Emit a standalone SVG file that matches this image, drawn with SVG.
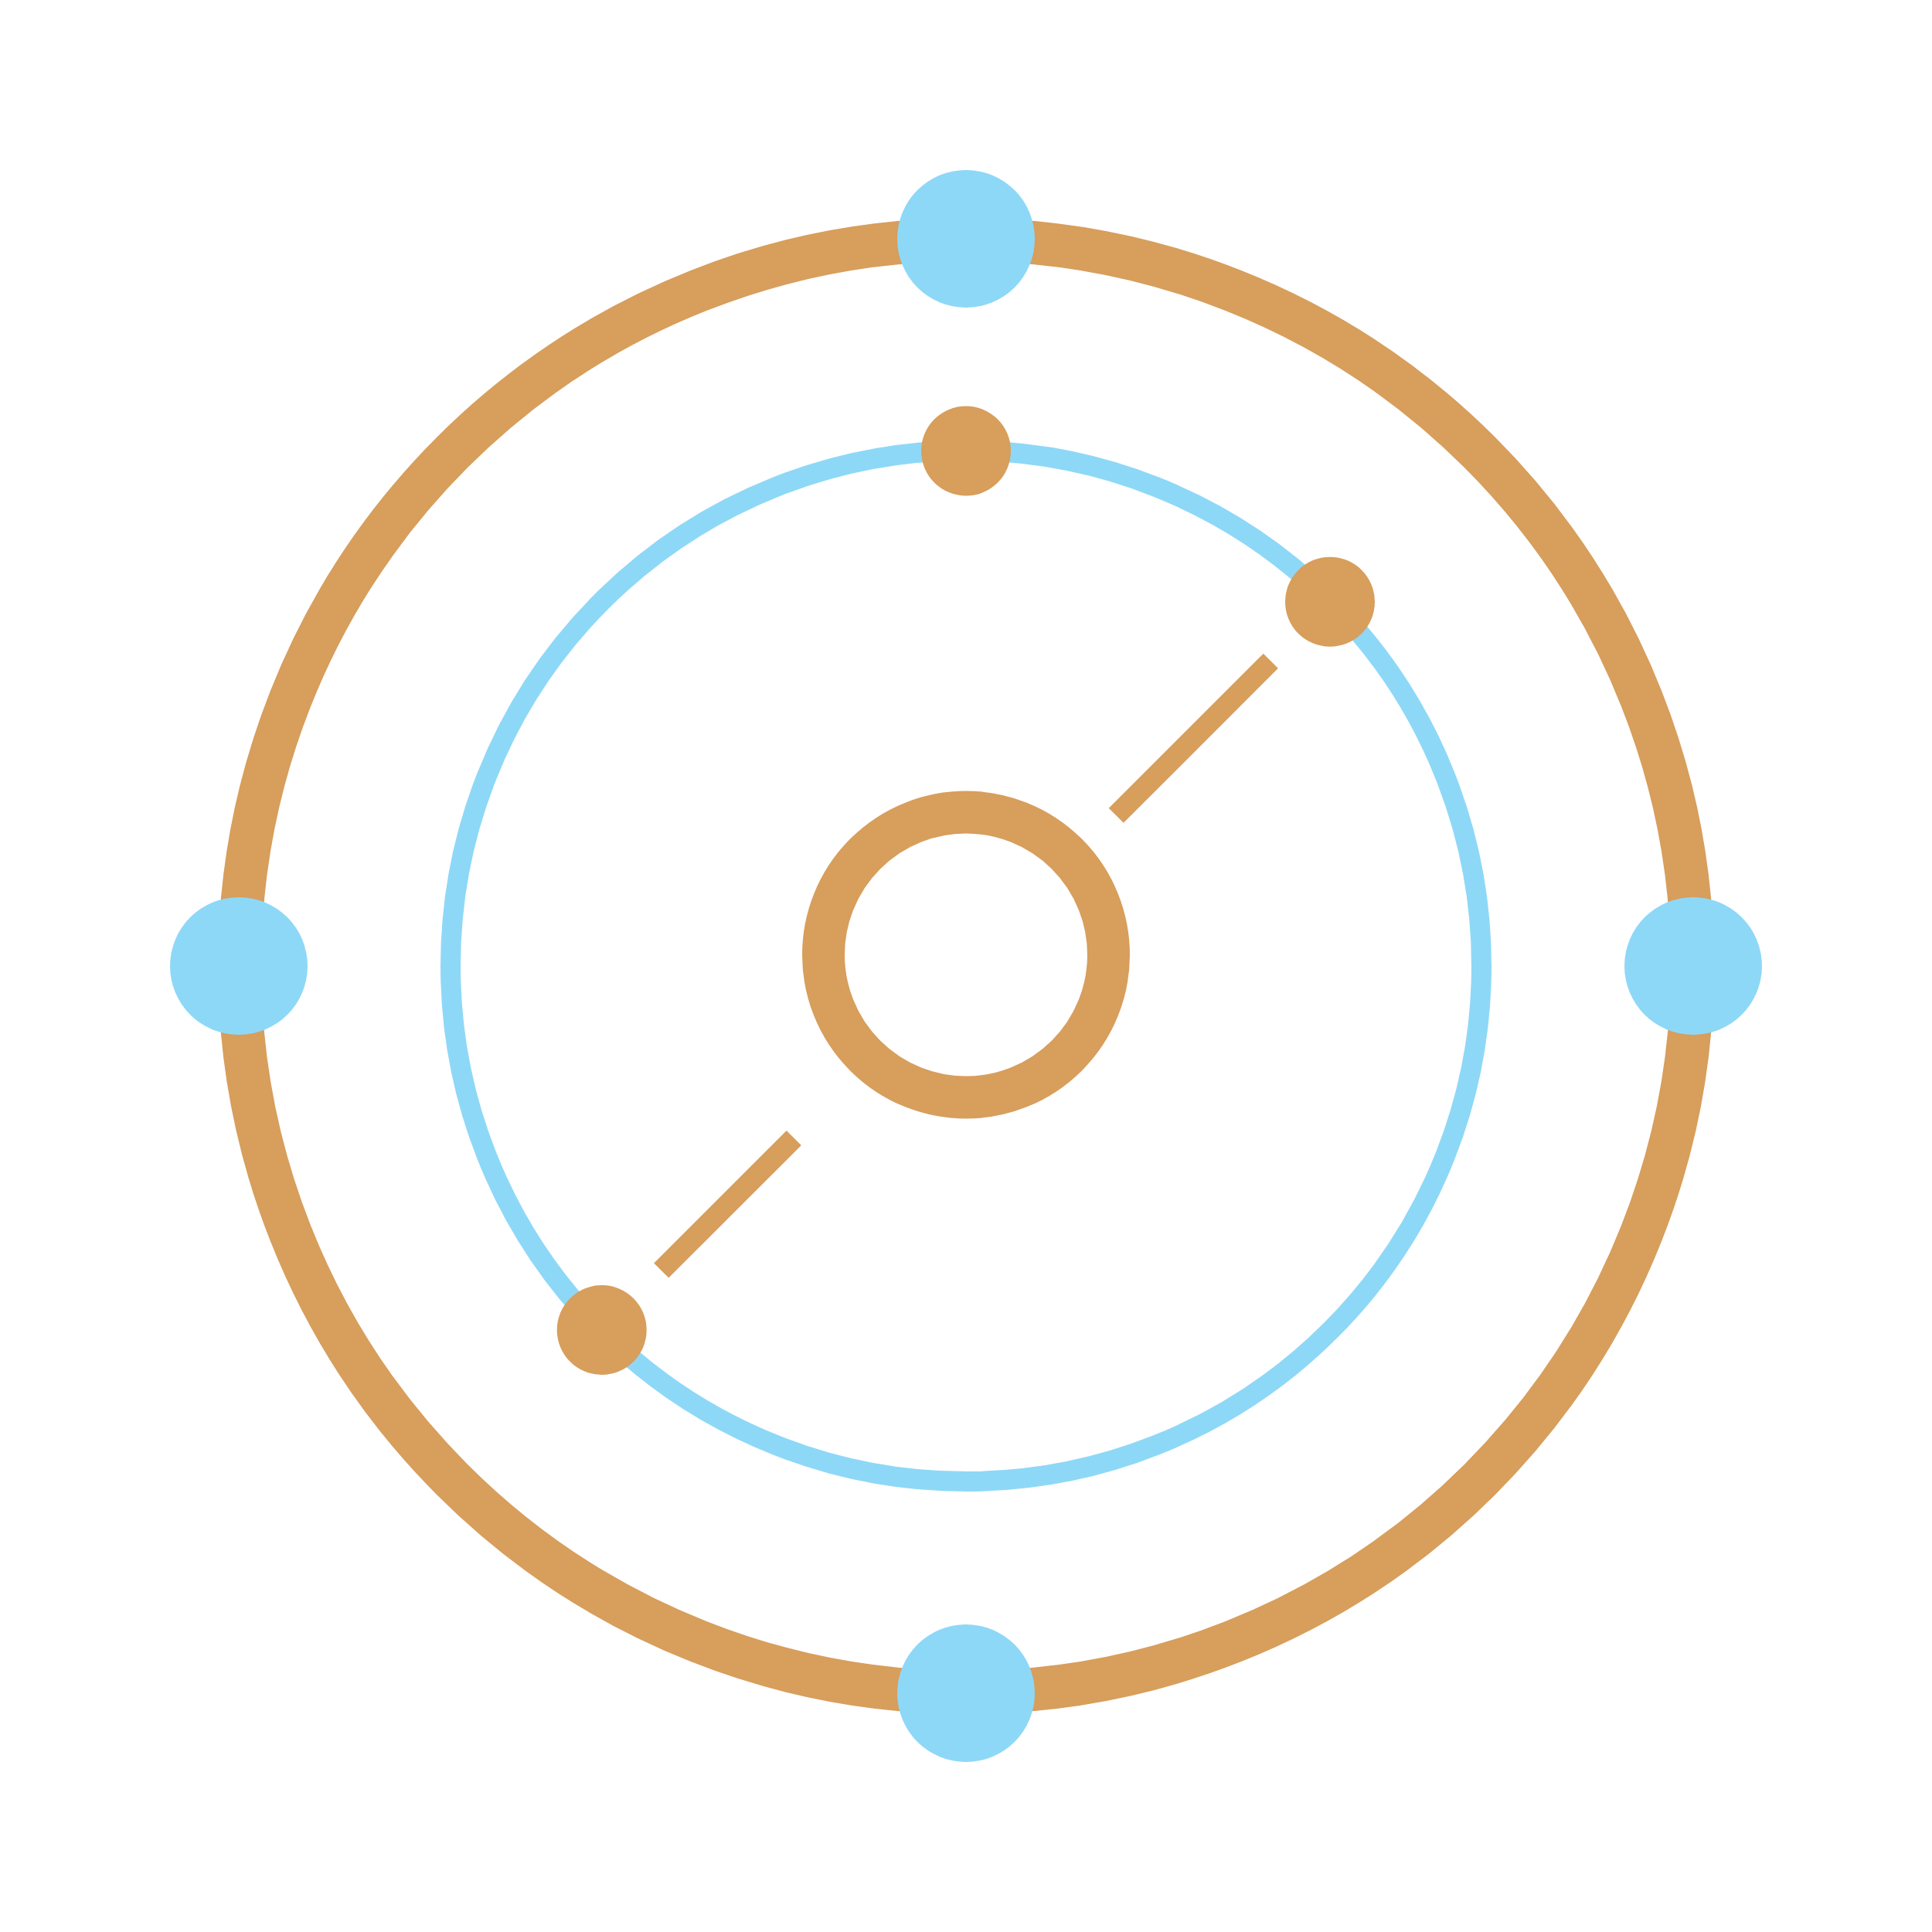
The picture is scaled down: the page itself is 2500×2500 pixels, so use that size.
<svg xmlns="http://www.w3.org/2000/svg" width="2500" height="2500" viewBox="0 0 2500 2500">
<style>
.ring{fill:none}
.brown{fill:#D79E5C}
.blue{fill:#8ED8F7}
.conn{stroke:#D79E5C;stroke-width:27;stroke-linecap:butt;fill:none}
</style>
<rect width="2500" height="2500" fill="#FFFFFF"/>
<g id="outer-ring"><circle class="ring" cx="1250" cy="1250" r="940" stroke="#D79E5C" stroke-width="56"/></g>
<g id="inner-ring"><circle class="ring" cx="1250" cy="1250" r="667" stroke="#8ED8F7" stroke-width="26"/></g>
<g id="center-ring"><circle class="ring" cx="1250" cy="1235.5" r="184.5" stroke="#D79E5C" stroke-width="55"/></g>
<g id="connectors">
<line class="conn" x1="1444.3" y1="1055.3" x2="1644.3" y2="855.3"/>
<line class="conn" x1="1027.3" y1="1472.5" x2="855.7" y2="1644"/>
</g>
<g id="node-top"><circle class="blue" cx="1250" cy="309" r="89"/></g>
<g id="node-right"><circle class="blue" cx="2191" cy="1250" r="89"/></g>
<g id="node-bottom"><circle class="blue" cx="1250" cy="2191" r="89"/></g>
<g id="node-left"><circle class="blue" cx="309" cy="1250" r="89"/></g>
<g id="node-inner-top"><circle class="brown" cx="1250" cy="583.5" r="58"/></g>
<g id="node-inner-ne"><circle class="brown" cx="1721" cy="778.7" r="58"/></g>
<g id="node-inner-sw"><circle class="brown" cx="778.7" cy="1721" r="58"/></g>
</svg>
